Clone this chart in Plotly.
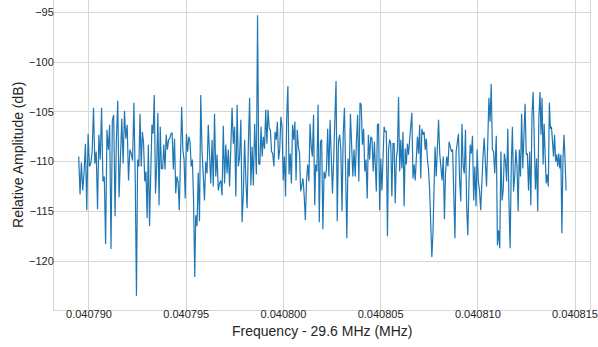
import numpy as np
import plotly.graph_objects as go

# Segment frequency bounds (MHz, offset from 29.6 MHz)
seg_start = [0.04078947, 0.04079238, 0.04079549, 0.04079861, 0.04080166,
             0.04080478, 0.04080780, 0.04081095, 0.04081325]
seg_end = [0.04079231, 0.04079544, 0.04079852, 0.04080161, 0.04080468,
           0.04080775, 0.04081087, 0.04081320, 0.04081454]

amp1 = [-109.5, -113.3, -110.1, -112.9, -111.1, -108.2, -114.9, -107.2, -110.5, -110.2,
        -109.0, -104.6, -110.2, -109.0, -114.8, -107.3, -109.8, -104.6, -112.0, -111.5,
        -118.3, -106.8, -108.8, -106.3, -118.8, -105.8, -105.3, -115.5, -107.8, -103.9,
        -113.6, -110.2, -105.7, -110.2, -104.9, -107.7, -106.3, -111.9, -108.8, -109.2,
        -109.9, -104.1]
amp2 = [-111.9, -123.5, -109.8, -110.5, -105.2, -110.5, -107.0, -108.2, -112.0, -111.0,
        -115.7, -108.3, -116.5, -111.2, -106.3, -107.2, -103.3, -113.2, -110.5, -105.1,
        -114.4, -106.5, -110.7, -110.7, -108.3, -110.8, -107.3, -108.8, -107.8, -107.7,
        -107.2, -107.1, -110.8, -107.7, -113.2, -111.5, -112.0, -114.9, -107.5, -104.5,
        -108.8, -109.8, -113.7, -107.2, -109.0, -107.5, -108.0, -110.5, -109.8, -113.9,
        -121.6]
amp3 = [-115.4, -116.5, -111.1, -116.0, -103.3, -108.8, -111.2, -113.9, -110.0, -111.2,
        -106.3, -109.8, -112.2, -107.8, -112.5, -105.2, -111.5, -109.3, -112.9, -112.2,
        -111.9, -113.4, -106.4, -112.2, -108.3, -111.2, -108.8, -112.5, -107.2, -104.6,
        -108.2, -106.5, -113.5, -104.3, -110.5, -109.5, -105.8, -116.1, -113.2, -107.8,
        -111.9, -114.7, -108.2, -103.6, -112.4, -108.5, -112.4, -106.2]
amp4 = [-111.3, -95.3, -110.2, -110.3, -106.5, -109.5, -107.5, -108.7, -104.8, -108.2,
        -104.8, -106.7, -106.8, -109.0, -109.2, -110.5, -107.0, -107.8, -106.0, -109.8,
        -108.8, -105.5, -106.5, -111.9, -109.5, -113.5, -105.5, -102.4, -111.3, -109.2,
        -112.2, -106.3, -107.8, -106.0, -111.9, -106.8, -108.5, -109.2, -113.0, -112.5,
        -111.7, -113.5, -115.9, -111.9, -110.3, -112.0, -106.2, -108.5, -109.5, -105.3,
        -114.4]
amp5 = [-110.3, -111.0, -104.3, -116.1, -108.0, -107.8, -116.8, -111.0, -111.7, -110.8,
        -106.7, -111.5, -105.8, -110.7, -113.2, -109.8, -105.3, -101.9, -116.0, -108.0,
        -107.3, -108.8, -115.0, -107.2, -104.6, -110.7, -117.7, -109.7, -111.5, -105.2,
        -109.7, -111.5, -108.8, -111.5, -108.0, -105.3, -112.0, -104.1, -104.3, -108.3,
        -106.7, -111.0, -109.8, -113.7, -107.3, -109.8, -107.5, -107.7, -111.0, -108.0]
amp6 = [-113.0, -106.3, -106.2, -114.9, -109.7, -112.9, -109.7, -106.5, -107.0, -107.0,
        -117.5, -108.8, -107.8, -108.2, -113.5, -108.2, -108.2, -114.2, -109.7, -108.8,
        -103.5, -111.0, -107.8, -110.7, -107.0, -114.5, -108.7, -110.3, -108.2, -109.3,
        -107.8, -106.6, -105.1, -111.7, -110.3, -111.9, -109.0, -107.5, -109.2, -106.3,
        -111.7, -106.7, -107.3, -107.0, -108.8, -107.7, -109.8, -110.8, -112.9, -117.4,
        -119.6, -117.2, -112.5]
amp7 = [-108.5, -111.5, -108.0, -105.8, -109.2, -110.8, -111.9, -109.5, -115.8, -111.0,
        -109.5, -110.5, -108.0, -108.5, -109.0, -108.8, -113.9, -117.7, -109.0, -108.2,
        -107.2, -111.9, -114.0, -106.2, -110.5, -111.2, -106.8, -114.5, -117.4, -112.0,
        -108.3, -109.2, -107.4, -113.9, -110.5, -114.5, -108.8, -112.0, -112.9, -114.9,
        -111.0, -109.5, -107.6, -109.8, -112.5, -108.2, -103.6, -106.0, -102.2, -108.8,
        -109.0, -111.2]
amp8 = [-107.4, -118.4, -116.9, -118.7, -109.0, -113.9, -112.9, -109.2, -110.0, -112.0,
        -106.7, -113.9, -118.7, -110.5, -106.5, -113.0, -111.5, -108.8, -110.5, -115.0,
        -108.8, -111.5, -105.2, -110.7, -107.5, -104.2, -109.3, -109.2, -112.9, -109.0,
        -114.4, -105.3, -103.0, -109.5, -112.8, -109.7, -115.0, -105.5, -103.0]
amp9 = [-107.3, -103.6, -110.3, -106.2, -109.5, -112.2, -111.3, -112.5, -104.1, -106.7,
        -106.5, -107.8, -109.5, -107.3, -110.0, -109.3, -110.5, -109.2, -110.7, -109.3,
        -117.2, -109.8, -107.3, -109.8, -112.9]

segments = [amp1, amp2, amp3, amp4, amp5, amp6, amp7, amp8, amp9]

x_ticks = [0.040790, 0.040795, 0.040800, 0.040805, 0.040810, 0.040815]
x_ticktext = ["0.040790", "0.040795", "0.040800", "0.040805", "0.040810", "0.040815"]
y_ticks = [-120, -115, -110, -105, -100, -95]
y_ticktext = ["\u2212120", "\u2212115", "\u2212110", "\u2212105", "\u2212100", "\u221295"]

freq = np.concatenate([np.linspace(s, e, len(a)) for s, e, a in zip(seg_start, seg_end, segments)])
amp = np.concatenate([np.array(a) for a in segments])

fig = go.Figure(go.Scatter(x=freq, y=amp, mode="lines",
                           line=dict(color="#1f77b4", width=1.2)))

font_family = "Liberation Sans, Arial, sans-serif"
grid = "#d6d6d6"
fig.update_layout(
    width=598, height=347,
    margin=dict(l=54, r=8, t=0, b=37),
    paper_bgcolor="white", plot_bgcolor="white",
    showlegend=False,
    font=dict(family=font_family, color="#262626"),
    annotations=[
        dict(text="Frequency - 29.6 MHz (MHz)", xref="paper", yref="paper",
             x=0.5, y=-0.0677, xanchor="center", yanchor="middle", showarrow=False,
             font=dict(size=14, family=font_family, color="#262626")),
        dict(text="Relative Amplitude (dB)", xref="paper", yref="paper",
             x=-0.0672, y=0.5, xanchor="center", yanchor="middle", showarrow=False,
             textangle=-90,
             font=dict(size=14, family=font_family, color="#262626")),
    ],
)
fig.update_xaxes(
    range=[0.0407882, 0.04081577],
    tickvals=x_ticks, ticktext=x_ticktext,
    showgrid=True, gridcolor=grid, gridwidth=1,
    showline=True, linecolor=grid, linewidth=1, mirror=True,
    zeroline=False, ticks="", ticklen=0, ticklabelstandoff=-6,
    tickfont=dict(size=11, family=font_family, color="#262626"),
    automargin=False,
)
fig.update_yaxes(
    range=[-124.92, -93.76],
    tickvals=y_ticks, ticktext=y_ticktext,
    showgrid=True, gridcolor=grid, gridwidth=1,
    showline=True, linecolor=grid, linewidth=1, mirror=True,
    zeroline=False, ticks="", ticklen=0, ticklabelstandoff=-3,
    tickfont=dict(size=11, family=font_family, color="#262626"),
    automargin=False,
)

fig.write_html("out.html")
